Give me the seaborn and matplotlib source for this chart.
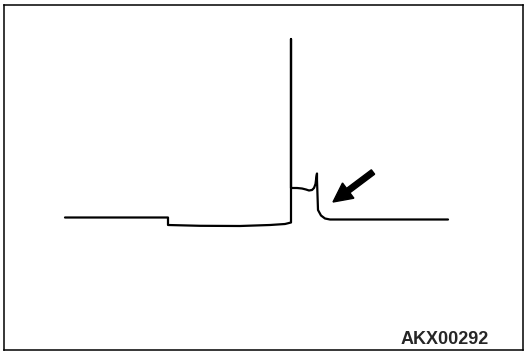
import matplotlib
matplotlib.use("Agg")
import matplotlib.pyplot as plt
import seaborn as sns
import pandas as pd

# ---------------------------
# Waveform data (frame units)
# ---------------------------
time = [61, 164, 164, 196, 236, 266, 281, 287, 287, 287,
        293, 298, 302, 305, 308, 310, 311.5, 312.5, 313, 313,
        314, 317, 321, 326, 444]
voltage = [132.5, 132.5, 125, 124.2, 124, 125, 126, 127.5, 311, 162,
           162, 161.5, 160.5, 159.5, 160, 162, 166, 174, 176.5, 170,
           140, 134.5, 131.5, 130.5, 130.5]

arrow_tail = (369, 178)
arrow_tip = (329, 148)
label = "AKX00292"

df = pd.DataFrame({"time": time, "voltage": voltage})

# ---------------------------
# Plot
# ---------------------------
sns.set_style("white")
plt.rcParams["font.family"] = ["Liberation Sans", "DejaVu Sans"]

fig = plt.figure(figsize=(5.27, 3.53), dpi=100)
ax = fig.add_axes([4 / 527, 3 / 353, 519 / 527, 345 / 353])

sns.lineplot(data=df, x="time", y="voltage", sort=False, estimator=None,
             color="black", linewidth=1.6, ax=ax)

ax.arrow(arrow_tail[0], arrow_tail[1],
         arrow_tip[0] - arrow_tail[0], arrow_tip[1] - arrow_tail[1],
         width=5.5, head_width=19, head_length=19,
         length_includes_head=True, color="black")

ax.text(485, 6, label, ha="right", va="baseline",
        fontsize=13, fontweight="bold")

ax.set_xlim(0, 519)
ax.set_ylim(0, 345)
ax.set_xticks([])
ax.set_yticks([])
ax.set_xlabel("")
ax.set_ylabel("")
for s in ax.spines.values():
    s.set_visible(True)
    s.set_color("black")
    s.set_linewidth(1.1)

fig.savefig("out.png", dpi=100)
